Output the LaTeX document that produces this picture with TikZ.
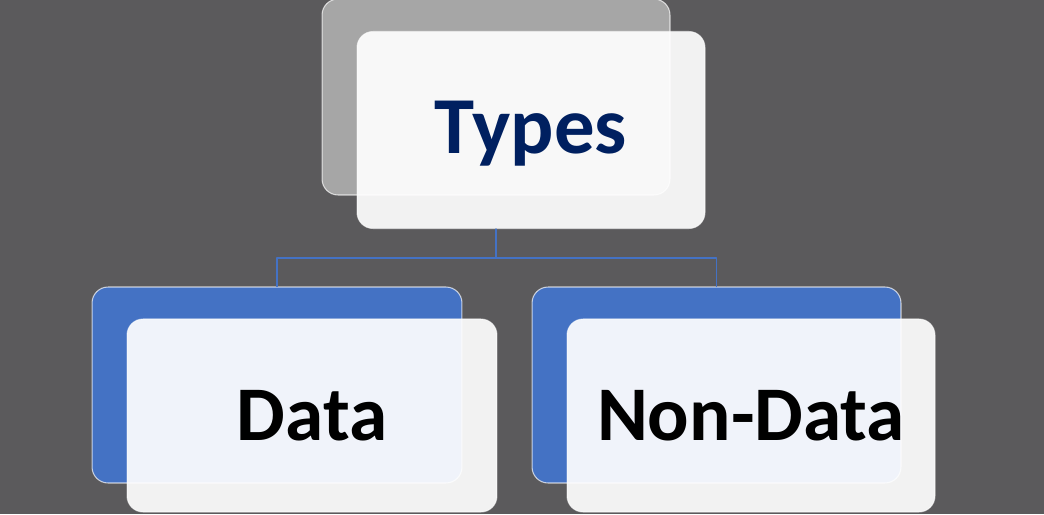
\documentclass[tikz,border=0pt]{standalone}
\usepackage{fontspec}
\setmainfont{Carlito}
\usepackage{tikz}
\usetikzlibrary{positioning}
\definecolor{slate}{HTML}{5B5A5C}
\definecolor{blue}{HTML}{4472C4}
\definecolor{navy}{HTML}{002060}
\definecolor{silver}{HTML}{A6A6A6}
\tikzset{
  every picture/.style={
    line join=round,
    line cap=round,
  },
  backbox/.style={draw=white, draw opacity=0.7, line width=0.6pt,
    rounded corners=0.32cm, inner sep=0pt},
  frontbox/.style={draw=white, draw opacity=0.6, line width=0.6pt,
    fill=white, fill opacity=0.92, text opacity=1,
    rounded corners=0.32cm, inner sep=0pt, font=\bfseries},
  link/.style={draw=blue, line width=0.7pt},
}
\begin{document}
\begin{tikzpicture}[x=0.02cm,y=-0.02cm]
\fill[slate](0,0)rectangle(1044,514);
\useasboundingbox(0,0)rectangle(1044,514);
% the back plates carry the tree, the front cards only the words
\node[backbox,fill=silver,minimum width=6.96cm,minimum height=3.92cm](typesBack)at(496,97){};
\node[backbox,fill=blue,minimum width=7.4cm,minimum height=3.92cm](dataBack)at(277,385){};
\node[backbox,fill=blue,minimum width=7.38cm,minimum height=3.92cm](nondataBack)at(716.5,385){};
\node[frontbox,text=navy,minimum width=6.96cm,minimum height=3.94cm,
  font=\fontsize{46}{50}\selectfont\bfseries,text depth=0.12cm](types)
  at([shift={(35,33)}]typesBack.center){Types};
\node[frontbox,text=black,minimum width=7.4cm,minimum height=3.86cm,
  font=\fontsize{44}{48}\selectfont\bfseries](data)
  at([shift={(35,30.5)}]dataBack.center){Data};
\node[frontbox,text=black,minimum width=7.36cm,minimum height=3.86cm,
  font=\fontsize{44}{48}\selectfont\bfseries](nondata)
  at([shift={(34.5,30.5)}]nondataBack.center){Non-Data};
\coordinate(fork)at(496,258);
\draw[link](typesBack.south|-types.south)--(fork);
\draw[link](fork)-|(dataBack.north);
\draw[link](fork)-|(nondataBack.north);
\end{tikzpicture}
\end{document}
